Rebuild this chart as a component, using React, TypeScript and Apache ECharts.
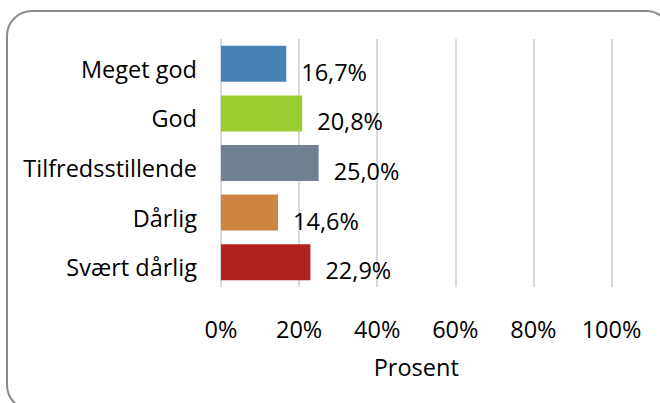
import React, { useEffect, useRef } from "react";
import * as echarts from "echarts";

const categories = ["Meget god", "God", "Tilfredsstillende", "Dårlig", "Svært dårlig"];
const values = [16.7, 20.8, 25.0, 14.6, 22.9];
const barColors = ["#4682B4", "#9ACD32", "#708090", "#CD853F", "#B22222"];
const xTicks = [0, 20, 40, 60, 80, 100];

const FONT = "Open Sans";
const FS = 23.5;

export default function App() {
  const ref = useRef<HTMLDivElement>(null);
  useEffect(() => {
    if (!ref.current) return;
    const chart = echarts.init(ref.current, undefined, { renderer: "svg" });
    chart.setOption({
      animation: false,
      backgroundColor: "#ffffff",
      textStyle: { fontFamily: FONT },
      graphic: [
        {
          type: "rect",
          shape: { x: 7, y: 11, width: 664, height: 399, r: 25 },
          style: { fill: "none", stroke: "#8a8a8a", lineWidth: 2 },
          silent: true,
        },
      ],
      grid: { left: 221, right: 48.5, top: 39, bottom: 116, containLabel: false },
      xAxis: {
        type: "value",
        min: xTicks[0],
        max: xTicks[xTicks.length - 1],
        interval: 20,
        axisLine: { show: false },
        axisTick: { show: false },
        splitLine: { show: true, lineStyle: { color: "#d9d9d9", width: 2 } },
        axisLabel: {
          formatter: (v: number) => v + "%",
          color: "#000",
          fontFamily: FONT,
          fontSize: FS,
          margin: 30,
        },
        name: "Prosent",
        nameLocation: "middle",
        nameGap: 68,
        nameTextStyle: { color: "#000", fontFamily: FONT, fontSize: FS },
      },
      yAxis: {
        type: "category",
        data: categories,
        inverse: true,
        axisLine: { show: false },
        axisTick: { show: false },
        splitLine: { show: false },
        axisLabel: {
          color: "#000",
          fontFamily: FONT,
          fontSize: FS,
          margin: 24,
          formatter: (v: string) => "{c|" + v + "}",
          rich: {
            c: {
              color: "#000",
              fontFamily: FONT,
              fontSize: FS,
              padding: [10, 0, 0, 0],
            },
          },
        },
      },
      series: [
        {
          type: "bar",
          data: values.map((v, i) => ({ value: v, itemStyle: { color: barColors[i] } })),
          barWidth: 36,
          label: {
            show: true,
            position: "right",
            distance: 15,
            offset: [0, 8],
            formatter: (p: any) => p.value.toFixed(1).replace(".", ",") + "%",
            color: "#000",
            fontFamily: FONT,
            fontSize: FS,
          },
        },
      ],
    });
    return () => chart.dispose();
  }, []);
  return (
    <div
      ref={ref}
      style={{ position: "fixed", left: 0, top: 0, width: 660, height: 403 }}
    />
  );
}
